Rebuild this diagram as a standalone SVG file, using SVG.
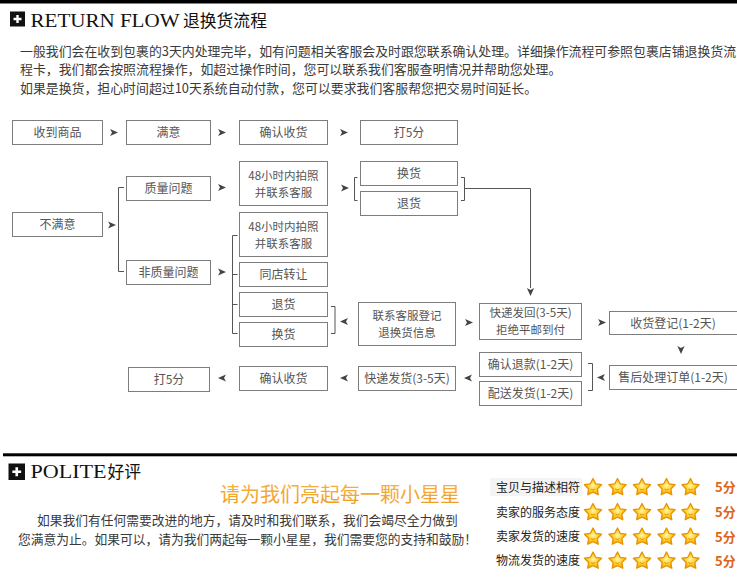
<svg xmlns="http://www.w3.org/2000/svg" xmlns:xlink="http://www.w3.org/1999/xlink" width="737" height="583" viewBox="0 0 737 583">
<style>
.bx{fill:#fff;stroke:#7d7d7d;stroke-width:1}
.bt{font-family:"Noto Sans CJK SC","Noto Sans",sans-serif;font-size:12px;fill:#555;text-anchor:middle}
.bt2{font-family:"Noto Sans CJK SC","Noto Sans",sans-serif;font-size:11.5px;fill:#555;text-anchor:middle}
.p{font-family:"Noto Sans CJK SC","Noto Sans",sans-serif;fill:#3a3a3a}
.ln{fill:none;stroke:#555;stroke-width:1}
.ar{fill:#444}
.serif{font-family:"Liberation Serif",serif;fill:#111}
.cjkh{font-family:"Noto Sans CJK SC",sans-serif;fill:#111}
.lab{font-family:"Noto Sans CJK SC",sans-serif;font-size:12px;fill:#222}
.sc{font-family:"Noto Sans CJK SC",sans-serif;font-size:13px;font-weight:bold;fill:#e0651c}
</style>
<defs>
<path id="arr" d="M0,-3.6 L8,0 L0,3.6 L2,0 Z"/>
<radialGradient id="sg" cx="0.5" cy="0.45" r="0.6">
<stop offset="0" stop-color="#fff6a8"/>
<stop offset="0.5" stop-color="#ffcf2a"/>
<stop offset="1" stop-color="#f29a00"/>
</radialGradient>
<linearGradient id="og" x1="0" y1="0" x2="0" y2="1">
<stop offset="0" stop-color="#f7b64a"/>
<stop offset="1" stop-color="#ee9a1c"/>
</linearGradient>
<g id="star">
<path d="M0,-9 L2.7,-3.72 L8.56,-2.78 L4.37,1.42 L5.29,7.28 L0,4.6 L-5.29,7.28 L-4.37,1.42 L-8.56,-2.78 L-2.7,-3.72 Z" fill="url(#sg)" stroke="#e89300" stroke-width="1.3" stroke-linejoin="round"/>
<path d="M-2.2,1.6 Q0,3.4 2.2,1.6" fill="none" stroke="#d98200" stroke-width="0.8"/>
</g>
<g id="plus">
<rect x="0" y="0" width="15" height="15" fill="#111"/>
<path d="M3.5,7.5 H11.5 M7.5,3.5 V11.5" stroke="#fff" stroke-width="2.4"/>
</g>
</defs>
<rect width="737" height="583" fill="#fff"/>

<!-- header -->
<rect x="0" y="0" width="737" height="3.5" fill="#000"/>
<use xlink:href="#plus" x="10" y="11.5"/>
<text class="serif" x="30.5" y="26.5" font-size="19" textLength="149" lengthAdjust="spacingAndGlyphs">RETURN FLOW</text>
<text class="cjkh" x="183" y="26.5" font-size="16.8">退换货流程</text>

<g id="intro" class="p" font-size="12.9">
<text x="20" y="55.5">一般我们会在收到包裹的3天内处理完毕，如有问题相关客服会及时跟您联系确认处理。详细操作流程可参照包裹店铺退换货流</text>
<text x="20" y="74">程卡，我们都会按照流程操作，如超过操作时间，您可以联系我们客服查明情况并帮助您处理。</text>
<text x="20" y="92.5">如果是换货，担心时间超过10天系统自动付款，您可以要求我们客服帮您把交易时间延长。</text>
</g>

<!-- nodes -->
<g id="n-shoudao"><rect class="bx" x="12.5" y="120.5" width="90" height="24"/><text class="bt" x="57.5" y="137">收到商品</text></g>
<g id="n-manyi"><rect class="bx" x="126.5" y="120.5" width="84" height="24"/><text class="bt" x="168.5" y="137">满意</text></g>
<g id="n-queren1"><rect class="bx" x="239.5" y="120.5" width="88" height="24"/><text class="bt" x="283.5" y="137">确认收货</text></g>
<g id="n-da5-1"><rect class="bx" x="360.5" y="120.5" width="97" height="24"/><text class="bt" x="409" y="137">打5分</text></g>

<g id="n-buman"><rect class="bx" x="12.5" y="212.5" width="90" height="24"/><text class="bt" x="57.5" y="229">不满意</text></g>
<g id="n-zhiliang"><rect class="bx" x="126.5" y="176.5" width="84" height="24"/><text class="bt" x="168.5" y="193">质量问题</text></g>
<g id="n-feizhiliang"><rect class="bx" x="126.5" y="260.5" width="84" height="24"/><text class="bt" x="168.5" y="277">非质量问题</text></g>

<g id="n-48a"><rect class="bx" x="239.5" y="161.5" width="88" height="44"/><text class="bt2" x="283.5" y="179.5">48小时内拍照</text><text class="bt2" x="283.5" y="196.5">并联系客服</text></g>
<g id="n-48b"><rect class="bx" x="239.5" y="212.5" width="88" height="44"/><text class="bt2" x="283.5" y="230.5">48小时内拍照</text><text class="bt2" x="283.5" y="247.5">并联系客服</text></g>
<g id="n-tongdian"><rect class="bx" x="239.5" y="262.5" width="88" height="24"/><text class="bt" x="283.5" y="279">同店转让</text></g>
<g id="n-tuihuo2"><rect class="bx" x="239.5" y="292.5" width="88" height="24"/><text class="bt" x="283.5" y="309">退货</text></g>
<g id="n-huanhuo2"><rect class="bx" x="239.5" y="322.5" width="88" height="24"/><text class="bt" x="283.5" y="339">换货</text></g>

<g id="n-huanhuo1"><rect class="bx" x="360.5" y="161.5" width="97" height="24"/><text class="bt" x="409" y="178">换货</text></g>
<g id="n-tuihuo1"><rect class="bx" x="360.5" y="191.5" width="97" height="24"/><text class="bt" x="409" y="208">退货</text></g>

<g id="n-lianxi"><rect class="bx" x="358.5" y="302.5" width="97" height="43"/><text class="bt2" x="407" y="320">联系客服登记</text><text class="bt2" x="407" y="337">退换货信息</text></g>
<g id="n-kuaidifahui"><rect class="bx" x="479.5" y="303.5" width="102" height="36"/><text class="bt2" x="530.5" y="317">快递发回(3-5天)</text><text class="bt2" x="530.5" y="334">拒绝平邮到付</text></g>
<g id="n-shouhuodengji"><rect class="bx" x="609.5" y="311.5" width="140" height="23"/><text class="bt" x="673" y="327.5">收货登记(1-2天)</text></g>
<g id="n-shouhou"><rect class="bx" x="609.5" y="365.5" width="140" height="24"/><text class="bt" x="673" y="382">售后处理订单(1-2天)</text></g>
<g id="n-tuikuan"><rect class="bx" x="479.5" y="352.5" width="102" height="24"/><text class="bt" x="530.5" y="369">确认退款(1-2天)</text></g>
<g id="n-peisong"><rect class="bx" x="479.5" y="381.5" width="102" height="24"/><text class="bt" x="530.5" y="398">配送发货(1-2天)</text></g>
<g id="n-kuaidifahuo"><rect class="bx" x="358.5" y="366.5" width="97" height="24"/><text class="bt" x="407" y="383">快递发货(3-5天)</text></g>
<g id="n-queren2"><rect class="bx" x="239.5" y="366.5" width="88" height="24"/><text class="bt" x="283.5" y="383">确认收货</text></g>
<g id="n-da5-2"><rect class="bx" x="128.5" y="367.5" width="81" height="24"/><text class="bt" x="169" y="384">打5分</text></g>

<!-- connectors -->
<g id="connectors">
<path class="ln" d="M124,187.5 H118.5 V271.5 H124"/>
<path class="ln" d="M357.5,177.5 H354.5 V200.5 H357.5"/>
<path class="ln" d="M461,177.5 H464.5 V200.5 H461 M464.5,188.5 H530.5 V288"/>
<path class="ln" d="M237.5,235.5 H232.5 V333.5 H237.5 M232.5,274.5 H237.5 M232.5,304.5 H237.5"/>
<path class="ln" d="M331,306.5 H335 V333.5 H331"/>
<path class="ln" d="M588,363.5 H592.5 V390.5 H588"/>
<g class="ar">
<use xlink:href="#arr" transform="translate(110,132.5)"/>
<use xlink:href="#arr" transform="translate(218,132.5)"/>
<use xlink:href="#arr" transform="translate(340,132.5)"/>
<use xlink:href="#arr" transform="translate(218,187.5)"/>
<use xlink:href="#arr" transform="translate(341,188)"/>
<use xlink:href="#arr" transform="translate(108,225)"/>
<use xlink:href="#arr" transform="translate(218,272)"/>
<use xlink:href="#arr" transform="translate(348,321.5) rotate(180)"/>
<use xlink:href="#arr" transform="translate(465,322.5)"/>
<use xlink:href="#arr" transform="translate(598,322.5)"/>
<use xlink:href="#arr" transform="translate(530.5,288) rotate(90)"/>
<use xlink:href="#arr" transform="translate(681,346) rotate(90)"/>
<use xlink:href="#arr" transform="translate(605,377.5) rotate(180)"/>
<use xlink:href="#arr" transform="translate(472,378) rotate(180)"/>
<use xlink:href="#arr" transform="translate(348,378) rotate(180)"/>
<use xlink:href="#arr" transform="translate(226,378) rotate(180)"/>
</g>
</g>

<!-- polite section -->
<rect x="3" y="453.3" width="734" height="3" fill="#000"/>
<use xlink:href="#plus" x="8.5" y="463.5" transform="translate(8.5,463.5) scale(1.1) translate(-8.5,-463.5)"/>
<text class="serif" x="30.5" y="477.5" font-size="19" textLength="76" lengthAdjust="spacingAndGlyphs">POLITE</text>
<text class="cjkh" x="107.5" y="478" font-size="16.8">好评</text>
<text x="220" y="501.5" font-family="Noto Sans CJK SC,sans-serif" font-size="20" fill="url(#og)" textLength="240">请为我们亮起每一颗小星星</text>
<g class="p" font-size="12.75">
<text x="37" y="525">如果我们有任何需要改进的地方，请及时和我们联系，我们会竭尽全力做到</text>
<text x="18" y="544">您满意为止。如果可以，请为我们两起每一颗小星星，我们需要您的支持和鼓励！</text>
</g>

<g id="ratings">
<rect x="490" y="478" width="92" height="18" fill="#f4f4f4"/>
<text class="lab" x="496" y="491.5">宝贝与描述相符</text>
<text class="lab" x="496" y="516.5">卖家的服务态度</text>
<text class="lab" x="496" y="541">卖家发货的速度</text>
<text class="lab" x="496" y="565">物流发货的速度</text>
<g id="stars1"><use xlink:href="#star" x="593" y="487.5"/><use xlink:href="#star" x="617.5" y="487.5"/><use xlink:href="#star" x="642" y="487.5"/><use xlink:href="#star" x="666.5" y="487.5"/><use xlink:href="#star" x="690.5" y="487.5"/></g>
<g id="stars2"><use xlink:href="#star" x="593" y="512.5"/><use xlink:href="#star" x="617.5" y="512.5"/><use xlink:href="#star" x="642" y="512.5"/><use xlink:href="#star" x="666.5" y="512.5"/><use xlink:href="#star" x="690.5" y="512.5"/></g>
<g id="stars3"><use xlink:href="#star" x="593" y="537"/><use xlink:href="#star" x="617.5" y="537"/><use xlink:href="#star" x="642" y="537"/><use xlink:href="#star" x="666.5" y="537"/><use xlink:href="#star" x="690.5" y="537"/></g>
<g id="stars4"><use xlink:href="#star" x="593" y="561"/><use xlink:href="#star" x="617.5" y="561"/><use xlink:href="#star" x="642" y="561"/><use xlink:href="#star" x="666.5" y="561"/><use xlink:href="#star" x="690.5" y="561"/></g>
<text class="sc" x="715" y="492">5分</text>
<text class="sc" x="715" y="517">5分</text>
<text class="sc" x="715" y="541.5">5分</text>
<text class="sc" x="715" y="565.5">5分</text>
</g>
</svg>
